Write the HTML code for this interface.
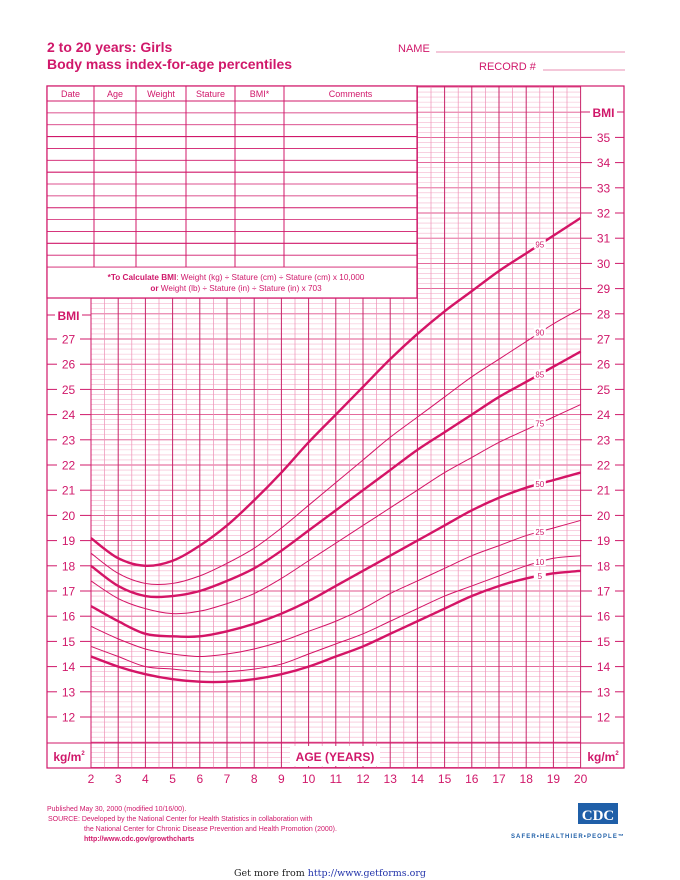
<!DOCTYPE html>
<html><head><meta charset="utf-8"><style>
body{margin:0;background:#fff;width:680px;height:880px;overflow:hidden;font-family:"Liberation Sans",sans-serif}
svg{display:block}
</style></head><body>
<svg id="c" width="680" height="880" viewBox="0 0 680 880" font-family="Liberation Sans, sans-serif">
<g>
<text x="47" y="52" font-size="14" font-weight="bold" fill="#d0186a">2 to 20 years: Girls</text>
<text x="47" y="69" font-size="14" font-weight="bold" fill="#d0186a">Body mass index-for-age percentiles</text>
<text x="398" y="52" font-size="11" fill="#d0186a">NAME</text>
<line x1="436" y1="52" x2="625" y2="52" stroke="#e06a9a" stroke-width="0.8"/>
<text x="479" y="70" font-size="11" fill="#d0186a">RECORD #</text>
<line x1="543" y1="70" x2="625" y2="70" stroke="#e06a9a" stroke-width="0.8"/>
</g>
<g id="grid"></g>
<g id="table"></g>
<g id="axes"></g>
<g id="curves"></g>
<g font-size="7" fill="#d0186a">
<text x="47" y="811">Published May 30, 2000 (modified 10/16/00).</text>
<text x="48" y="821">SOURCE: Developed by the National Center for Health Statistics in collaboration with</text>
<text x="84" y="831">the National Center for Chronic Disease Prevention and Health Promotion (2000).</text>
<text x="84" y="841" font-weight="bold">http://www.cdc.gov/growthcharts</text>
</g>
<g>
<rect x="578" y="803" width="40" height="21" fill="#1f5fa8"/>
<text x="598" y="820" font-size="15" font-weight="bold" fill="#fff" text-anchor="middle" font-family="Liberation Serif, serif">CDC</text>
<text x="568" y="838" font-size="6" font-weight="bold" fill="#1f5fa8" text-anchor="middle" letter-spacing="1.1">SAFER•HEALTHIER•PEOPLE™</text>
</g>
<text x="330" y="876" font-size="9.5" text-anchor="middle" font-family="DejaVu Serif, serif" fill="#222">Get more from <tspan fill="#2233aa">http://www.getforms.org</tspan></text>
</svg>
<script>
const ages=[2,3,4,5,6,7,8,9,10,11,12,13,14,15,16,17,18,19,20];
const percentiles=["5","10","25","50","75","85","90","95"];
const p5=[14.4,14.0,13.7,13.5,13.4,13.4,13.5,13.7,14.0,14.4,14.8,15.3,15.8,16.3,16.8,17.2,17.5,17.7,17.8];
const p10=[14.8,14.4,14.0,13.9,13.8,13.8,13.9,14.1,14.5,14.9,15.3,15.8,16.3,16.8,17.2,17.6,18.0,18.3,18.4];
const p25=[15.6,15.1,14.7,14.5,14.4,14.5,14.7,15.0,15.4,15.8,16.3,16.9,17.4,17.9,18.4,18.8,19.2,19.5,19.8];
const p50=[16.4,15.8,15.3,15.2,15.2,15.4,15.7,16.1,16.6,17.2,17.8,18.4,19.0,19.6,20.2,20.7,21.1,21.4,21.7];
const p75=[17.4,16.7,16.3,16.1,16.2,16.5,16.9,17.5,18.2,18.9,19.6,20.3,21.0,21.7,22.3,22.9,23.4,23.9,24.4];
const p85=[18.0,17.2,16.8,16.8,17.0,17.4,17.9,18.6,19.4,20.2,21.0,21.8,22.6,23.3,24.0,24.7,25.3,25.9,26.5];
const p90=[18.5,17.7,17.3,17.3,17.6,18.1,18.7,19.5,20.4,21.3,22.2,23.1,23.9,24.7,25.5,26.2,26.9,27.6,28.2];
const p95=[19.1,18.3,18.0,18.2,18.8,19.6,20.6,21.7,22.9,24.0,25.1,26.2,27.2,28.1,28.9,29.7,30.4,31.1,31.8];
const leftTicks=[12,13,14,15,16,17,18,19,20,21,22,23,24,25,26,27];
const rightTicks=[12,13,14,15,16,17,18,19,20,21,22,23,24,25,26,27,28,29,30,31,32,33,34,35];
const tableCols=["Date","Age","Weight","Stature","BMI*","Comments"];

const NS="http://www.w3.org/2000/svg";
const X=a=>91+(a-2)*27.2;
const Y=b=>717-(b-12)*25.2;
function mk(tag,attrs,parent,txt){const e=document.createElementNS(NS,tag);for(const k in attrs)e.setAttribute(k,attrs[k]);if(txt!=null)e.textContent=txt;parent.appendChild(e);return e;}
const C="#d0186a";
const grid=document.getElementById('grid');
for(let i=0;i<=135;i++){
  const b=10+i*0.2, y=Y(b);
  if(y<86||y>768.5)continue;
  const major=i%5===0;
  const x1=y<298?417:91;
  mk('line',{x1:x1,y1:y,x2:581,y2:y,stroke:major?"#e0558e":"#f5b5cd","stroke-width":major?0.9:0.6},grid);
}
for(let i=0;i<=36;i++){
  const a=2+i*0.5,x=X(a);
  const major=i%2===0;
  const y1=x>=417?86:298;
  mk('line',{x1:x,y1:y1,x2:x,y2:768,stroke:major?"#c8246a":"#ee8fb5","stroke-width":major?1:0.7},grid);
}
mk('rect',{x:47,y:86,width:577,height:682,fill:"none",stroke:C,"stroke-width":1.2},grid);
mk('line',{x1:47,y1:743,x2:624,y2:743,stroke:C,"stroke-width":1},grid);
mk('line',{x1:91,y1:298,x2:91,y2:768,stroke:C,"stroke-width":1},grid);

const tbl=document.getElementById('table');
mk('rect',{x:47,y:86,width:370,height:212,fill:"#fff",stroke:C,"stroke-width":1.2},tbl);
const colX=[47,94,136,186,235,284,417];
for(let i=1;i<6;i++){mk('line',{x1:colX[i],y1:86,x2:colX[i],y2:267,stroke:C,"stroke-width":1},tbl);}
for(let r=0;r<=14;r++){const y=101+r*11.86;mk('line',{x1:47,y1:y,x2:417,y2:y,stroke:C,"stroke-width":r%3===0?1.1:0.8},tbl);}
tableCols.forEach((t,i)=>{
  const e=mk('text',{x:(colX[i]+colX[i+1])/2,y:97,"font-size":9,fill:C,"text-anchor":"middle"},tbl,t);
  
  
});
const f1=mk('text',{x:236,y:280,"font-size":8.2,fill:C,"text-anchor":"middle"},tbl);
f1.innerHTML='<tspan font-weight="bold">*To Calculate BMI</tspan>: Weight (kg) ÷ Stature (cm) ÷ Stature (cm) x 10,000';


const f2=mk('text',{x:236,y:291,"font-size":8.2,fill:C,"text-anchor":"middle"},tbl);
f2.innerHTML='<tspan font-weight="bold">or</tspan> Weight (lb) ÷ Stature (in) ÷ Stature (in) x 703';



const ax=document.getElementById('axes');
leftTicks.forEach(b=>{
  const y=Y(b);
  mk('line',{x1:47,y1:y,x2:57,y2:y,stroke:C,"stroke-width":1},ax);
  mk('line',{x1:80,y1:y,x2:91,y2:y,stroke:C,"stroke-width":1},ax);
  const t=mk('text',{x:68.5,y:y+4.5,"font-size":12,fill:C,"text-anchor":"middle"},ax,b);
  
  
});
rightTicks.forEach(b=>{
  const y=Y(b);
  mk('line',{x1:581,y1:y,x2:592,y2:y,stroke:C,"stroke-width":1},ax);
  mk('line',{x1:615,y1:y,x2:624,y2:y,stroke:C,"stroke-width":1},ax);
  const t=mk('text',{x:603.5,y:y+4.5,"font-size":12,fill:C,"text-anchor":"middle"},ax,b);
  
  
});
ages.forEach(a=>{
  const t=mk('text',{x:X(a),y:783,"font-size":12,fill:C,"text-anchor":"middle"},ax,a);
  
  
});
mk('line',{x1:47,y1:315,x2:55,y2:315,stroke:C},ax);mk('line',{x1:82,y1:315,x2:91,y2:315,stroke:C},ax);
const bl=mk('text',{x:68.5,y:320,"font-size":12,"font-weight":"bold",fill:C,"text-anchor":"middle"},ax,"BMI");


mk('line',{x1:581,y1:112,x2:590,y2:112,stroke:C},ax);mk('line',{x1:617,y1:112,x2:624,y2:112,stroke:C},ax);
const br=mk('text',{x:603.5,y:117,"font-size":12,"font-weight":"bold",fill:C,"text-anchor":"middle"},ax,"BMI");


[[69,"left-unit-label"],[603,"right-unit-label"]].forEach(([x,n])=>{
  mk('rect',{x:x-19,y:746,width:38,height:20,fill:"#fff"},ax);
  const t=mk('text',{x:x,y:761,"font-size":12,"font-weight":"bold",fill:C,"text-anchor":"middle"},ax);
  t.innerHTML='kg/m<tspan font-size="6" dy="-6">2</tspan>';
  
  
});
mk('rect',{x:290,y:746,width:90,height:20,fill:"#fff"},ax);
const xt=mk('text',{x:335,y:761,"font-size":12,"font-weight":"bold",fill:C,"text-anchor":"middle"},ax,"AGE (YEARS)");



const cv=document.getElementById('curves');
const series=[p5,p10,p25,p50,p75,p85,p90,p95];
const thick={"5":1,"50":1,"85":1,"95":1};
function path(vals){
  const pts=ages.map((a,i)=>[X(a),Y(vals[i])]);
  let d="M"+pts[0][0]+","+pts[0][1];
  for(let i=0;i<pts.length-1;i++){
    const p0=pts[Math.max(i-1,0)],p1=pts[i],p2=pts[i+1],p3=pts[Math.min(i+2,pts.length-1)];
    const c1=[p1[0]+(p2[0]-p0[0])/6,p1[1]+(p2[1]-p0[1])/6];
    const c2=[p2[0]-(p3[0]-p1[0])/6,p2[1]-(p3[1]-p1[1])/6];
    d+=` C${c1[0]},${c1[1]} ${c2[0]},${c2[1]} ${p2[0]},${p2[1]}`;
  }
  return d;
}
series.forEach((vals,i)=>{
  const p=percentiles[i];
  const e=mk('path',{d:path(vals),fill:"none",stroke:"#d41466","stroke-width":thick[p]?2.4:1,"stroke-linejoin":"round"},cv);
  
  
  const v=(vals[16]+vals[17])/2;
  const lx=X(18.5),ly=Y(v);
  mk('rect',{x:lx-6,y:ly-5,width:12,height:9,fill:"#fff"},cv);
  const t=mk('text',{x:lx,y:ly+3,"font-size":8,fill:C,"text-anchor":"middle"},cv,p);
  
  
});
</script>
</body></html>
